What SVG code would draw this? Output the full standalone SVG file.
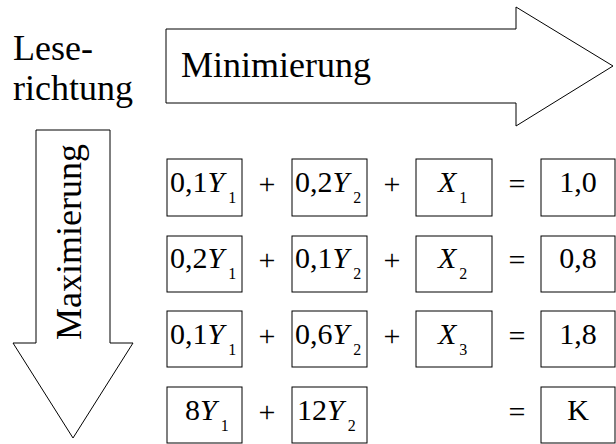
<svg xmlns="http://www.w3.org/2000/svg" width="616" height="444" viewBox="0 0 616 444">
<style>
.shape{fill:#fff;stroke:#000;stroke-width:1}
text{fill:#000;font-family:'Liberation Serif','Nimbus Roman','Nimbus Roman No9 L','Noto Serif','FreeSerif','Times',Tinos,'DejaVu Serif',serif}
.big{font-size:36px}
.eq{font-size:30px}
.i{font-style:italic}
.sub{font-size:16px}
</style>
<rect width="616" height="444" fill="#fff"/>
<g id="leserichtung">
<text class="big" x="13" y="60">Lese-</text>
<text class="big" x="13" y="100">richtung</text>
</g>
<g id="minimierung">
<polygon class="shape" points="166,29 516,29 516,7 613,66 516,126 516,103 166,103"/>
<text class="big" x="181" y="77">Minimierung</text>
</g>
<g id="maximierung">
<polygon class="shape" points="36,130 110,130 110,343 133,343 73,438 13,343 36,343"/>
<text class="big" text-anchor="middle" transform="translate(81,242) rotate(-90)">Maximierung</text>
</g>
<g id="boxes">
<rect class="shape" x="167" y="159" width="75" height="57"/>
<rect class="shape" x="292" y="159" width="75" height="57"/>
<rect class="shape" x="416" y="159" width="76" height="57"/>
<rect class="shape" x="541" y="159" width="74" height="57"/>
<rect class="shape" x="167" y="236" width="75" height="56"/>
<rect class="shape" x="292" y="236" width="75" height="56"/>
<rect class="shape" x="416" y="236" width="76" height="56"/>
<rect class="shape" x="541" y="236" width="74" height="56"/>
<rect class="shape" x="167" y="311" width="75" height="56"/>
<rect class="shape" x="292" y="311" width="75" height="56"/>
<rect class="shape" x="416" y="311" width="76" height="56"/>
<rect class="shape" x="541" y="311" width="74" height="56"/>
<rect class="shape" x="167" y="387" width="75" height="56"/>
<rect class="shape" x="292" y="387" width="75" height="56"/>
<rect class="shape" x="541" y="387" width="74" height="56"/>
</g>
<g id="row1">
<text class="eq" x="170" y="192">0,1<tspan class="i">Y</tspan><tspan class="sub" dx="4" dy="11">1</tspan></text>
<text class="eq" x="267" y="194" text-anchor="middle">+</text>
<text class="eq" x="295" y="192">0,2<tspan class="i">Y</tspan><tspan class="sub" dx="4" dy="11">2</tspan></text>
<text class="eq" x="392" y="194" text-anchor="middle">+</text>
<text class="eq" x="438" y="192"><tspan class="i">X</tspan><tspan class="sub" dx="3" dy="11">1</tspan></text>
<text class="eq" x="517" y="194" text-anchor="middle">=</text>
<text class="eq" x="578" y="192" text-anchor="middle">1,0</text>
</g>
<g id="row2">
<text class="eq" x="170" y="268">0,2<tspan class="i">Y</tspan><tspan class="sub" dx="4" dy="11">1</tspan></text>
<text class="eq" x="267" y="270" text-anchor="middle">+</text>
<text class="eq" x="295" y="268">0,1<tspan class="i">Y</tspan><tspan class="sub" dx="4" dy="11">2</tspan></text>
<text class="eq" x="392" y="270" text-anchor="middle">+</text>
<text class="eq" x="438" y="268"><tspan class="i">X</tspan><tspan class="sub" dx="3" dy="11">2</tspan></text>
<text class="eq" x="517" y="270" text-anchor="middle">=</text>
<text class="eq" x="578" y="268" text-anchor="middle">0,8</text>
</g>
<g id="row3">
<text class="eq" x="170" y="344">0,1<tspan class="i">Y</tspan><tspan class="sub" dx="4" dy="11">1</tspan></text>
<text class="eq" x="267" y="346" text-anchor="middle">+</text>
<text class="eq" x="295" y="344">0,6<tspan class="i">Y</tspan><tspan class="sub" dx="4" dy="11">2</tspan></text>
<text class="eq" x="392" y="346" text-anchor="middle">+</text>
<text class="eq" x="438" y="344"><tspan class="i">X</tspan><tspan class="sub" dx="3" dy="11">3</tspan></text>
<text class="eq" x="517" y="346" text-anchor="middle">=</text>
<text class="eq" x="578" y="344" text-anchor="middle">1,8</text>
</g>
<g id="row4">
<text class="eq" x="185" y="420">8<tspan class="i">Y</tspan><tspan class="sub" dx="4" dy="11">1</tspan></text>
<text class="eq" x="267" y="422" text-anchor="middle">+</text>
<text class="eq" x="297" y="420">12<tspan class="i">Y</tspan><tspan class="sub" dx="4" dy="11">2</tspan></text>
<text class="eq" x="517" y="422" text-anchor="middle">=</text>
<text class="eq" x="578" y="420" text-anchor="middle">K</text>
</g>
</svg>
